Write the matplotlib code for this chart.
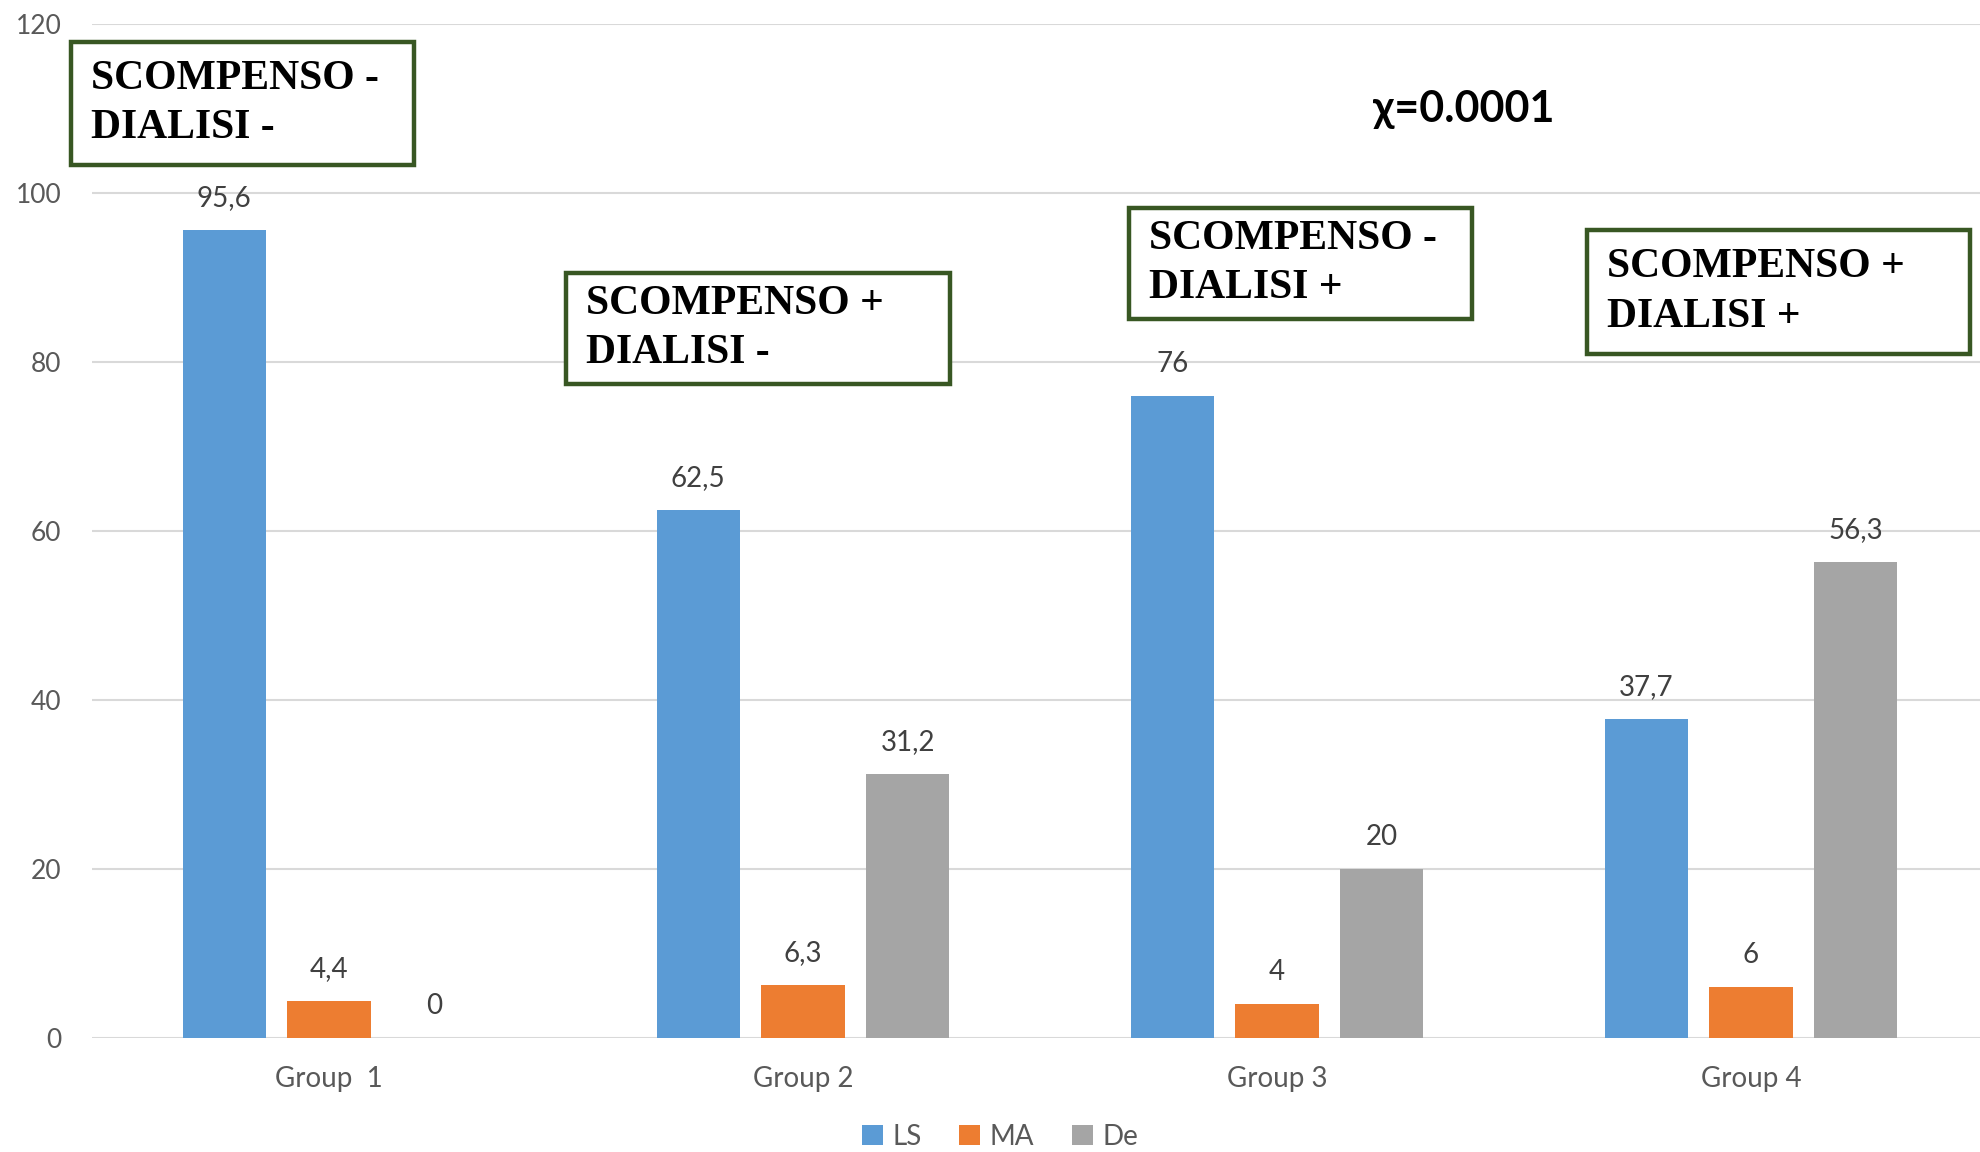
import matplotlib.pyplot as plt
from matplotlib.patches import Rectangle
import numpy as np

groups = ['Group  1', 'Group 2', 'Group 3', 'Group 4']
series = ['LS', 'MA', 'De']
ls = [95.6, 62.5, 76, 37.7]
ma = [4.4, 6.3, 4, 6]
de = [0, 31.2, 20, 56.3]
colors = ['#5B9BD5', '#ED7D31', '#A5A5A5']
box_texts = ['SCOMPENSO -\nDIALISI -', 'SCOMPENSO +\nDIALISI -',
             'SCOMPENSO -\nDIALISI +', 'SCOMPENSO +\nDIALISI +']

W, H = 1980, 1152
fig = plt.figure(figsize=(W / 100, H / 100), dpi=100)
ax = fig.add_axes([92 / W, 1 - 1038 / H, 1 - 92 / W, (1038 - 24) / H])

x = np.arange(len(groups))
step = 0.221
width = 0.176
for i, (name, vals) in enumerate(zip(series, [ls, ma, de])):
    pos = x + (i - 1) * step
    ax.bar(pos, vals, width, color=colors[i], label=name, zorder=3)
    for p, v in zip(pos, vals):
        lab = ('%g' % v).replace('.', ',')
        ax.annotate(lab, (p, v), xytext=(0, 32), textcoords='offset pixels',
                    ha='center', va='center', fontsize=20, color='#404040',
                    family='Lato')

ax.set_xlim(-0.5, -0.5 + (W - 92) / 474)
ax.set_ylim(0, 120)
ax.set_yticks(range(0, 121, 20))
ax.grid(axis='y', color='#D9D9D9', lw=1.5, zorder=0)
ax.set_xticks(x)
ax.set_xticklabels(groups)
ax.tick_params(length=0, labelsize=19, labelcolor='#595959')
ax.tick_params(axis='x', labelsize=20, pad=20)
ax.tick_params(axis='y', pad=22)
for lab in ax.get_xticklabels() + ax.get_yticklabels():
    lab.set_family('Lato')
for s in ax.spines.values():
    s.set_visible(False)

leg = fig.legend(loc='center', bbox_to_anchor=(1000 / W, 1 - 1137 / H), ncol=3,
                 frameon=False, handlelength=0.75, handleheight=0.75,
                 handletextpad=0.35, columnspacing=1.35,
                 prop={'family': 'Lato', 'size': 20})
for t in leg.get_texts():
    t.set_color('#595959')

# annotation boxes, in figure pixels: left, top, right, bottom
boxes = [(71, 42, 414, 165), (566, 273, 950, 384),
         (1129, 208, 1472, 319), (1587, 230, 1970, 354)]
for (l, t, r, b), txt in zip(boxes, box_texts):
    fig.add_artist(Rectangle((l / W, 1 - b / H), (r - l) / W, (b - t) / H,
                             transform=fig.transFigure, fill=True, fc='white',
                             ec='#385723', lw=3.2, zorder=5))
    fig.text((l + 20) / W, 1 - (t + (b - t) / 2) / H, txt, ha='left',
             va='center', fontsize=30, fontweight='bold',
             family='Liberation Serif', linespacing=1.38, zorder=6)

fig.text(1464 / W, 1 - 109 / H, 'χ=0.0001', ha='center', va='center',
         fontsize=31, fontweight='bold', family='Lato')

fig.savefig('out.png', dpi=100)
